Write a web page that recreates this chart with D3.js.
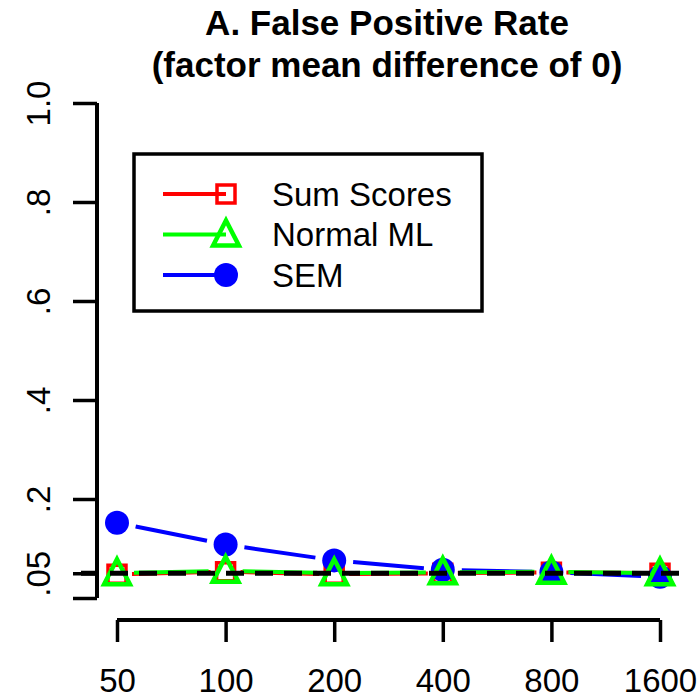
<!DOCTYPE html>
<html>
<head>
<meta charset="utf-8">
<script src="https://cdn.jsdelivr.net/npm/d3@7"></script>
<style>
  html, body { margin: 0; padding: 0; background: #fff; }
  svg { display: block; font-family: "Liberation Sans", Arial, sans-serif; }
</style>
</head>
<body>
<div id="chart"></div>
<script>
(function() {
  'use strict';

  // Data
  var sampleSizes = ['50', '100', '200', '400', '800', '1600'];
  var sumScores = [0.048, 0.053, 0.048, 0.050, 0.052, 0.050];
  var normalML  = [0.050, 0.055, 0.050, 0.052, 0.053, 0.050];
  var sem       = [0.152, 0.108, 0.076, 0.057, 0.052, 0.043];
  var yTicks = [0, 0.05, 0.2, 0.4, 0.6, 0.8, 1.0];
  var yTickLabels = ['', '.05', '.2', '.4', '.6', '.8', '1.0'];
  var nominalRate = 0.05;

  var width = 700, height = 699;

  var svg = d3.select('#chart').append('svg')
    .attr('width', width)
    .attr('height', height);

  var x = d3.scalePoint().domain(sampleSizes).range([117, 660]);
  var y = d3.scaleLinear().domain([0, 1]).range([598, 103]);
  var plotLeft = 95, plotRight = 684;

  // Title
  var title = svg.append('g').attr('text-anchor', 'middle')
    .style('font-weight', '700').style('font-size', '35px').style('fill', '#000');
  title.append('text').attr('x', 387).attr('y', 35).text('A. False Positive Rate');
  title.append('text').attr('x', 387).attr('y', 77).text('(factor mean difference of 0)');

  // Axes
  var xAxis = svg.append('g')
    .attr('transform', 'translate(0,620)')
    .call(d3.axisBottom(x).tickSize(22).tickSizeOuter(0).tickPadding(0));
  xAxis.select('.domain').attr('stroke-width', 4).attr('d', 'M' + x('50') + ',0H' + x('1600'));
  xAxis.selectAll('.tick line').attr('stroke-width', 3.5);
  xAxis.selectAll('.tick text')
    .attr('y', 72).attr('dy', null)
    .style('font-size', '33px').style('font-family', '"Liberation Sans", Arial, sans-serif')
    .attr('fill', '#000');

  var yAxis = svg.append('g')
    .attr('transform', 'translate(97,0)')
    .call(d3.axisLeft(y).tickValues(yTicks).tickSize(24).tickSizeOuter(0)
      .tickFormat(function(d, i) { return yTickLabels[i]; }));
  yAxis.select('.domain').attr('stroke-width', 4).attr('d', 'M0,' + y(0) + 'V' + y(1));
  yAxis.selectAll('.tick line').attr('stroke-width', 3.5);
  yAxis.selectAll('.tick text')
    .attr('x', null).attr('dy', null)
    .attr('transform', 'translate(-59,0) rotate(-90)')
    .attr('text-anchor', 'middle').attr('dominant-baseline', 'central')
    .style('font-size', '33px').style('font-family', '"Liberation Sans", Arial, sans-serif')
    .attr('fill', '#000');

  // type="b" style lines: segments with gaps around points
  function drawSeries(values, color, gap) {
    var g = svg.append('g');
    var pts = values.map(function(v, i) { return [x(sampleSizes[i]), y(v)]; });
    for (var i = 0; i < pts.length - 1; i++) {
      var a = pts[i], b = pts[i + 1];
      var dx = b[0] - a[0], dy = b[1] - a[1];
      var len = Math.sqrt(dx * dx + dy * dy);
      var ux = dx / len, uy = dy / len;
      g.append('line')
        .attr('x1', a[0] + ux * gap).attr('y1', a[1] + uy * gap)
        .attr('x2', b[0] - ux * gap).attr('y2', b[1] - uy * gap)
        .attr('stroke', color).attr('stroke-width', 4);
    }
    return { g: g, pts: pts };
  }

  function square(g, cx, cy) {
    g.append('rect').attr('x', cx - 9).attr('y', cy - 9).attr('width', 18).attr('height', 18)
      .attr('fill', 'none').attr('stroke', 'red').attr('stroke-width', 3.5);
  }
  function triangle(g, cx, cy) {
    var r = 14;
    g.append('path')
      .attr('d', 'M' + cx + ',' + (cy - r) + 'L' + (cx + r * 0.92) + ',' + (cy + r * 0.78) +
        'L' + (cx - r * 0.92) + ',' + (cy + r * 0.78) + 'Z')
      .attr('fill', 'none').attr('stroke', '#00ff00').attr('stroke-width', 4.5)
      .attr('stroke-linejoin', 'miter');
  }
  function dot(g, cx, cy) {
    g.append('ellipse').attr('cx', cx).attr('cy', cy).attr('rx', 12).attr('ry', 12).attr('fill', 'blue');
  }

  var red = drawSeries(sumScores, 'red', 15);
  red.pts.forEach(function(p) { square(red.g, p[0], p[1]); });
  var blue = drawSeries(sem, 'blue', 19);
  blue.pts.forEach(function(p) { dot(blue.g, p[0], p[1]); });
  var green = drawSeries(normalML, '#00ff00', 17);
  green.pts.forEach(function(p) { triangle(green.g, p[0], p[1]); });

  // Nominal rate reference line
  svg.append('line')
    .attr('x1', plotLeft - 14).attr('x2', plotRight)
    .attr('y1', y(nominalRate)).attr('y2', y(nominalRate))
    .attr('stroke', '#000').attr('stroke-width', 5)
    .attr('stroke-dasharray', '18,11');

  // Legend
  var legendItems = [
    { label: 'Sum Scores', color: 'red', mark: square },
    { label: 'Normal ML', color: '#00ff00', mark: triangle },
    { label: 'SEM', color: 'blue', mark: dot }
  ];
  var legend = svg.append('g');
  legend.append('rect')
    .attr('x', 134).attr('y', 154).attr('width', 348).attr('height', 157)
    .attr('fill', '#fff').attr('stroke', '#000').attr('stroke-width', 3.5);
  legendItems.forEach(function(d, i) {
    var ly = 194 + i * 40.5;
    legend.append('line').attr('x1', 163).attr('x2', 226).attr('y1', ly).attr('y2', ly)
      .attr('stroke', d.color).attr('stroke-width', 4);
    d.mark(legend, 226, ly);
    legend.append('text').attr('x', 272).attr('y', ly)
      .attr('dominant-baseline', 'central')
      .style('font-size', '33px').attr('fill', '#000').text(d.label);
  });
})();
</script>
</body>
</html>
